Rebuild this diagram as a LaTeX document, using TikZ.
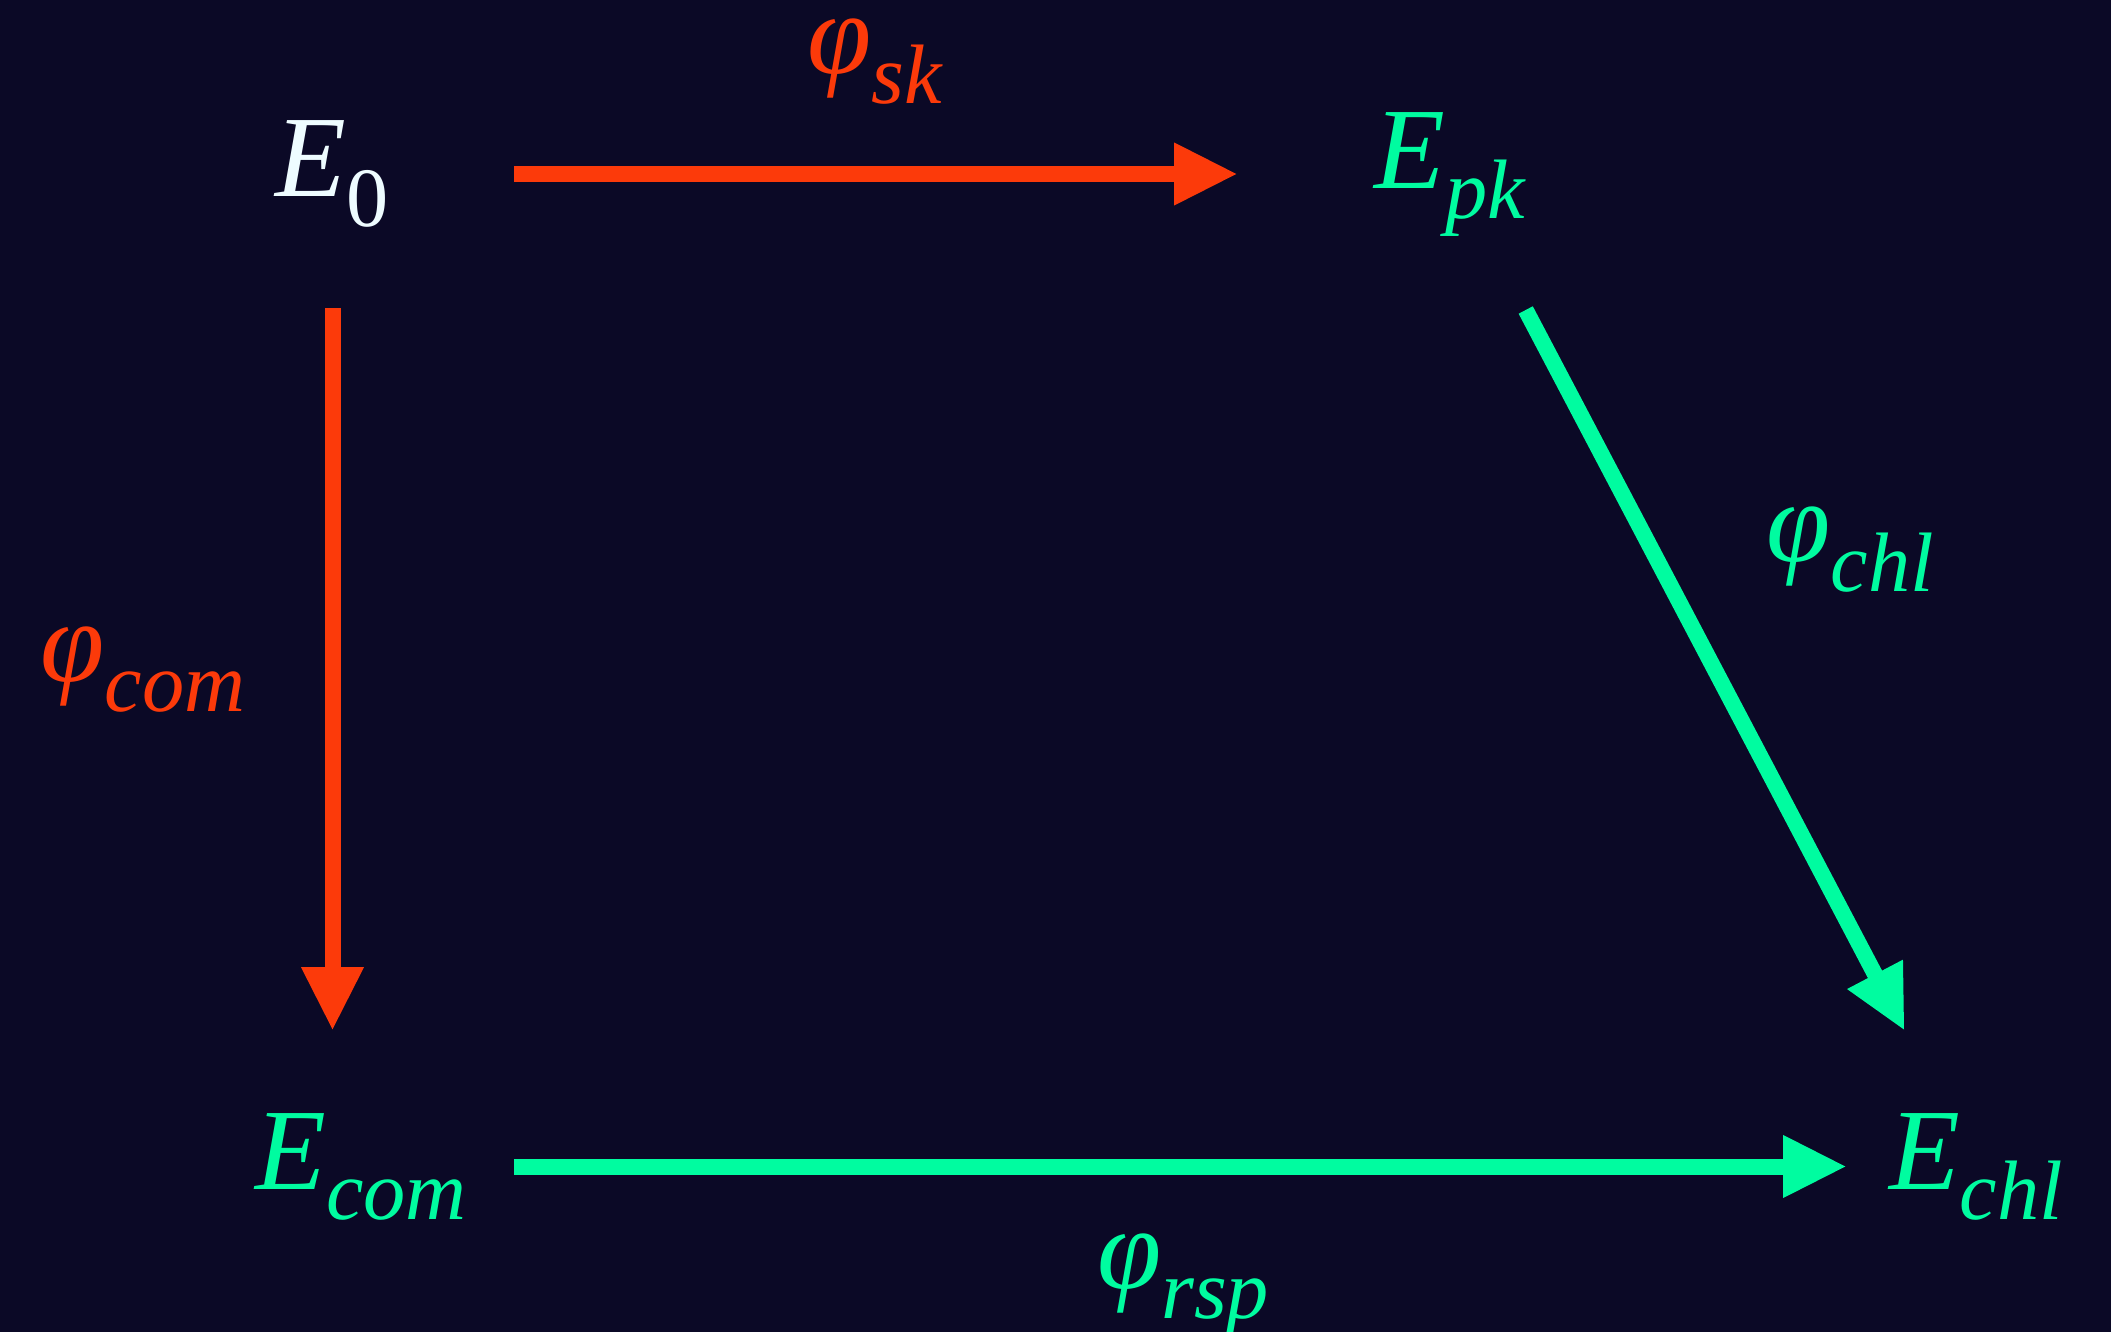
\documentclass[tikz,border=0pt]{standalone}
\usepackage{fontspec}
\setmainfont{Liberation Serif}
\usetikzlibrary{arrows.meta, positioning}
\definecolor{bgnavy}{RGB}{11,9,38}
\definecolor{hotred}{RGB}{252,58,10}
\definecolor{mint}{RGB}{0,252,160}
\definecolor{icewhite}{RGB}{238,252,255}
\newcommand{\subsz}{\fontsize{24}{24}\selectfont}
\newcommand{\msub}[2]{\textit{#1}\raisebox{-0.3cm}{\subsz\itshape #2}}

\begin{document}
\begin{tikzpicture}[>={Triangle[length=0.64cm, width=0.58cm]}, line width=0.16cm,
    every node/.style={font=\fontsize{33}{33}\selectfont, inner sep=0pt},
    curve/.style={text height=0.8cm, text depth=0.35cm}]
    \fill[bgnavy] (0,0) rectangle (21.11,-13.32);
    \useasboundingbox (0,0) rectangle (21.11,-13.32);

    \node[curve, icewhite] (e0) at (3.325,-1.74) {\msub{E}{\upshape 0}};
    \node[curve, mint] (epk) at (14.5,-1.66) {\msub{E}{pk}};
    \node[curve, mint] (ecom) at (3.61,-11.665) {\msub{E}{com}};
    \node[curve, mint] (echl) at (19.76,-11.665) {\msub{E}{chl}};

    \draw[->, hotred, shorten <=1.815cm, shorten >=2.12cm] (e0.center) -- (e0.center -| epk.center);
    \draw[->, hotred, shorten <=1.34cm, shorten >=1.355cm] (e0.center) -- (e0.center |- ecom.center);
    \draw[->, mint, shorten <=1.53cm, shorten >=1.29cm] (ecom.center) -- (ecom.center -| echl.center);
    \draw[->, mint, shorten <=1.627cm, shorten >=1.531cm] (epk.center) -- (echl.center);

    \node[hotred] (sk) at (8.75,-0.62) {\msub{φ}{sk}};
    \node[hotred] (com) at (1.43,-6.70) {\msub{φ}{com}};
    \node[mint] (chl) at (18.5,-5.5) {\msub{φ}{chl}};
    \node[mint] (rsp) at (11.83,-12.85) {\msub{φ}{rsp}};
\end{tikzpicture}
\end{document}
